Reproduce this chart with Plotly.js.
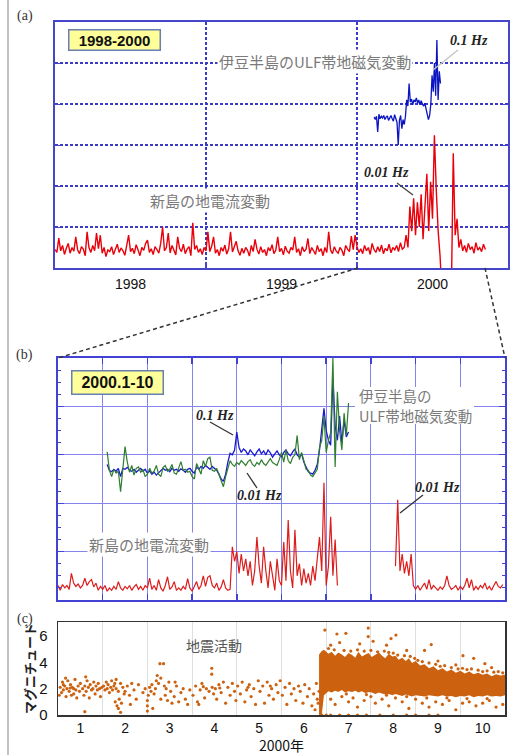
<!DOCTYPE html>
<html><head><meta charset="utf-8">
<script src="https://cdn.plot.ly/plotly-3.0.1.min.js"></script>
<style>html,body{margin:0;padding:0;background:#fff}#chart{width:513px;height:755px}</style>
</head><body><div id="chart"></div>
<script>
// ---------- (a) 1998-2000 ----------
const yearTicks = [1998.5, 1999.5, 2000.5];
const yearLabels = ['1998', '1999', '2000'];
const redAStart = 1998.0, redAStep = 0.0125;   // decimal years
const redA = [
0.45,0.38,0.73,0.42,0.55,0.33,0.48,0.6,0.36,0.5,
0.41,0.76,0.44,0.35,0.52,0.46,0.3,0.88,0.5,0.38,
0.55,0.42,0.85,0.47,0.8,0.36,0.5,0.28,0.44,0.4,
0.52,0.33,0.46,0.58,0.38,0.49,0.42,0.31,0.55,0.8,
0.4,0.48,0.35,0.57,0.44,0.3,0.5,0.43,0.6,0.68,
0.38,0.47,0.33,0.52,0.45,0.36,0.6,1.0,0.42,0.5,
0.85,0.37,0.55,0.44,0.32,0.76,0.48,0.4,0.58,0.35,
0.46,0.52,0.3,1.1,0.45,0.55,0.38,0.47,0.33,0.5,
0.42,0.88,0.4,0.53,0.76,0.36,0.45,0.3,0.5,0.41,
0.56,0.34,0.47,0.88,0.39,0.52,0.65,0.42,0.31,0.48,
0.36,0.5,0.43,0.29,0.55,0.4,0.7,0.46,0.34,0.52,
0.38,0.45,0.3,0.5,0.42,0.57,0.35,0.44,0.76,0.4,
0.48,0.32,0.53,0.41,0.36,0.5,0.44,0.76,0.38,0.47,
0.3,0.52,0.4,0.46,0.72,0.35,0.5,0.42,0.33,0.55,
0.4,0.47,0.3,0.5,0.38,0.88,0.44,0.35,0.52,0.41,
0.36,0.5,0.43,0.3,0.55,0.46,0.4,0.78,0.45,0.8,
0.52,0.38,0.47,0.35,0.55,0.42,0.5,0.33,0.6,0.45,
0.38,0.52,0.4,0.56,0.35,0.48,0.42,0.58,0.37,0.5,
0.44,0.55,0.4,0.62,0.46,0.5,0.8,0.5,1.5,0.9,
1.7,0.8,1.6,1.0,1.8,0.7,1.5,2.3,0.9,2.1,
1.2,3.24,1.9,0.9,0.3,-0.6,-0.6,-0.6,-0.6,-0.6,
-0.6,2.8,0.8,1.2,0.5,0.7,0.42,0.55,0.38,0.6,
0.45,0.52,0.36,0.62,0.44,0.5,0.4,0.58,0.45];
const blueAStart = 2000.113, blueAStep = 0.008;
const blueA = [
3.68,3.62,3.70,3.32,3.75,3.64,3.70,3.66,3.72,3.62,
3.68,3.71,3.60,3.66,3.72,3.64,3.58,3.74,3.66,3.55,
3.00,3.60,3.72,3.40,3.62,3.50,3.70,4.10,3.95,4.50,
4.05,4.12,3.98,4.10,4.05,4.15,4.02,4.10,3.98,4.08,
4.00,3.95,4.02,3.90,3.75,3.62,3.72,4.00,4.70,4.30,
5.00,4.20,5.56,4.10,4.80,4.50];

// ---------- (b) 2000.1-10 (months from 1 Jan) ----------
const redBStart = 0.0, monthStep = 0.05;
const redB = [
0.3,0.2,0.32,0.25,0.3,0.22,0.55,0.35,0.28,0.33,
0.25,0.3,0.45,0.3,0.38,0.42,0.27,0.35,0.2,0.28,
0.22,0.3,0.18,0.25,0.2,0.28,0.22,0.38,0.25,0.2,
0.28,0.23,0.3,0.2,0.27,0.32,0.22,0.28,0.2,0.3,
0.25,0.45,0.22,0.3,0.2,0.42,0.25,0.18,0.3,0.48,
0.22,0.27,0.38,0.2,0.25,0.2,0.28,0.22,0.44,0.25,
0.18,0.3,0.38,0.22,0.3,0.5,0.28,0.47,0.5,0.3,
0.25,0.35,0.2,0.27,0.42,0.25,0.2,0.22,1.1,0.8,
1.0,0.55,0.95,0.6,0.85,0.5,0.8,0.3,0.6,1.3,
0.7,0.35,1.1,0.6,0.25,0.8,0.5,0.2,0.85,0.4,
0.3,1.2,0.4,1.65,0.6,0.25,1.45,0.5,0.75,0.3,
0.65,0.35,0.55,0.3,0.7,0.4,0.85,1.3,0.6,2.42,
0.3,0.7,1.72,0.5,1.25,0.3,null,null,null,null,
null,null,null,null,null,null,null,null,null,null,
null,null,null,null,null,null,null,null,null,null,
null,0.7,2.07,0.6,0.95,0.55,0.8,0.5,0.95,0.3,
0.22,0.3,0.2,0.28,0.35,0.22,0.42,0.22,0.3,0.25,
0.2,0.27,0.22,0.3,0.5,0.3,0.22,0.25,0.3,0.2,
0.28,0.22,0.3,0.45,0.25,0.42,0.2,0.28,0.22,0.3,
0.25,0.35,0.22,0.28,0.2,0.3,0.38,0.28,0.25,0.32];
const magStart = 1.1;
const blueB = [
2.8,2.68,2.65,2.7,2.66,2.72,2.55,2.72,2.7,2.74,
2.68,2.66,2.7,2.64,2.68,2.72,2.66,2.7,2.62,2.67,
2.6,2.64,2.58,2.62,2.68,2.72,2.68,2.7,2.65,2.72,
2.68,2.7,2.66,2.71,2.68,2.64,2.7,2.72,2.66,2.62,
2.75,2.7,2.76,2.72,2.78,2.74,2.7,2.76,2.72,2.68,
2.6,2.5,2.45,2.6,2.85,3.03,3.0,3.1,3.47,3.15,
3.05,3.12,3.08,3.0,3.1,3.04,2.98,3.06,3.12,3.02,
3.08,3.0,3.1,3.04,2.95,3.02,3.08,3.0,2.96,3.05,
3.1,3.02,2.98,3.06,3.12,3.0,2.95,3.02,2.85,2.75,
2.65,2.62,2.6,2.68,2.8,3.1,3.6,3.96,3.5,3.3,
3.2,4.58,3.6,3.3,3.8,3.25,3.72,3.37,3.47];
const greenB = [
3.06,2.68,2.55,2.7,2.62,2.66,2.24,2.8,3.17,2.85,
2.64,2.78,2.58,2.72,2.75,2.64,2.7,2.55,2.6,2.72,
2.62,2.66,2.78,2.6,2.55,2.74,2.78,2.66,2.7,2.8,
2.62,2.6,2.72,2.86,2.68,2.7,2.64,2.66,2.55,2.5,
2.82,2.7,2.6,2.88,2.76,2.92,2.95,2.68,2.66,2.72,
2.6,2.45,2.34,2.55,2.7,2.88,2.8,2.76,2.84,2.8,
2.88,2.82,2.78,2.86,2.9,2.8,2.76,2.84,2.8,2.9,
2.82,2.78,2.86,2.92,2.84,2.8,2.78,2.9,3.05,2.85,
3.1,2.88,2.82,2.95,3.0,3.4,2.9,3.05,2.85,2.7,
2.68,2.58,2.55,2.62,2.7,3.15,3.3,3.8,3.05,3.3,
3.45,5.0,2.75,4.3,3.5,3.1,3.86,3.4,4.07];

// ---------- (c) seismicity ----------
const monthTicks = [0.5,1.5,2.5,3.5,4.5,5.5,6.5,7.5,8.5,9.5];
const monthLabels = ['1','2','3','4','5','6','7','8','9','10'];
const magTicks = [0, 2, 4, 6];
const bandMonth = [5.84,5.9,5.95,6.05,6.12,6.2,6.27,6.35,6.42,6.5,6.58,6.65,6.72,6.8,6.88,6.95,7.02,7.1,7.18,7.25,7.32,7.4,7.48,7.55,7.62,7.7,7.78,7.85,7.92,8.0,8.1,8.2,8.3,8.4,8.5,8.6,8.7,8.8,8.9,9.0,9.1,9.2,9.3,9.4,9.5,9.6,9.7,9.8,9.9,10.0];
const bandHigh = [4.6,4.85,4.95,4.65,4.8,4.5,4.75,4.6,4.4,4.7,4.55,4.35,4.8,4.45,4.6,4.7,4.4,4.55,4.75,4.5,4.3,4.65,4.45,4.5,4.2,4.35,4.1,4.3,3.95,4.1,3.75,3.85,3.55,3.7,3.4,3.55,3.3,3.45,3.2,3.35,3.15,3.3,3.1,3.2,3.05,3.15,2.95,3.1,3.0,3.05];
const bandLow = [0.0,0.0,1.5,1.8,1.7,1.85,1.75,1.9,1.7,1.8,1.75,1.85,1.7,1.8,1.65,1.75,1.7,1.6,1.7,1.65,1.55,1.6,1.5,1.6,1.55,1.45,1.55,1.5,1.4,1.5,1.45,1.4,1.5,1.45,1.4,1.5,1.4,1.45,1.35,1.45,1.4,1.5,1.35,1.45,1.4,1.5,1.4,1.45,1.4,1.5];
const quakes = [
[0.05,2.1],[0.08,1.7],[0.1,2.5],[0.12,1.9],[0.15,2.2],[0.18,1.4],[0.2,2.0],[0.22,2.6],[0.25,1.8],[0.28,2.3],[0.3,1.5],[0.32,2.1],[0.35,2.0],[0.38,2.7],[0.4,1.9],[0.42,1.3],[0.45,2.2],[0.48,1.8],[0.5,2.4],[0.12,2.3],[0.27,2.05],[0.35,1.6],[0.17,2.8],[0.03,1.5],
[0.55,2.0],[0.58,1.5],[0.6,2.2],[0.63,1.8],[0.65,2.6],[0.68,2.1],[0.7,1.3],[0.72,2.3],[0.75,1.9],[0.78,2.0],[0.8,2.5],[0.83,1.6],[0.85,2.2],[0.88,1.9],[0.9,2.4],[0.93,2.0],[0.95,1.4],[0.98,2.1],[0.62,2.9],[0.6,0.25],
[1.02,2.2],[1.05,1.9],[1.08,2.5],[1.1,2.0],[1.12,2.3],[1.15,1.7],[1.18,2.1],[1.2,2.6],[1.22,1.9],[1.25,2.2],[1.28,1.0],[1.3,2.0],[1.32,0.7],[1.35,1.8],[1.37,1.2],[1.4,2.4],[1.42,0.9],[1.45,2.1],[1.48,1.6],[1.5,1.8],[1.3,2.7],[1.4,0.2],[1.35,0.5],[1.27,2.4],
[1.55,2.2],[1.6,1.5],[1.65,2.4],[1.7,1.9],[1.75,1.2],[1.8,2.3],[1.9,1.7],[1.95,2.0],[1.62,0.8],
[2.0,0.3],[2.0,0.7],[2.0,1.1],[2.02,1.5],[2.05,2.1],[2.08,1.8],[2.1,2.3],[2.15,1.6],[2.18,2.0],[2.2,2.6],[2.22,3.0],[2.25,2.4],[2.28,3.9],[2.3,2.8],[2.36,3.9],[2.38,2.2],[2.4,1.5],[2.42,2.0],[2.45,1.1],[2.48,2.5],[2.3,1.2],[2.12,0.5],
[2.52,1.8],[2.55,0.9],[2.6,1.4],[2.65,2.2],[2.7,1.0],[2.75,1.7],[2.8,2.0],[2.85,1.2],[2.9,0.8],[2.95,1.9],[2.62,2.5],
[3.02,1.5],[3.08,2.2],[3.12,1.0],[3.18,1.9],[3.22,2.4],[3.28,1.3],[3.32,2.0],[3.38,1.8],[3.44,3.55],[3.44,3.1],[3.45,2.1],[3.48,1.6],[3.15,0.8],[3.25,2.15],
[3.52,2.0],[3.55,1.2],[3.6,2.3],[3.65,1.7],[3.7,2.5],[3.75,0.9],[3.8,2.1],[3.85,1.5],[3.9,2.4],[3.95,1.8],[3.98,1.1],[3.62,2.05],
[4.02,2.2],[4.08,1.6],[4.12,2.5],[4.18,1.0],[4.22,1.9],[4.28,2.3],[4.32,1.4],[4.38,2.0],[4.42,0.8],[4.48,2.6],[4.25,2.1],
[4.52,1.8],[4.58,2.2],[4.62,0.9],[4.68,2.5],[4.72,1.5],[4.78,2.0],[4.82,1.2],[4.88,2.3],[4.92,1.7],[4.97,2.6],[4.75,2.2],
[5.02,1.5],[5.08,2.1],[5.12,0.8],[5.18,2.4],[5.22,1.6],[5.28,2.0],[5.32,1.1],[5.38,2.2],[5.42,1.8],[5.48,0.9],[5.52,2.3],[5.58,1.4],[5.62,2.0],[5.68,0.7],[5.72,1.6],[5.75,0.4],[5.78,2.4],[5.8,1.2],[5.82,0.9],[5.84,1.8],
[5.97,6.45],[6.24,6.15],[6.44,6.2],[6.94,6.6],[6.94,5.95],[7.56,6.07],[8.35,5.35],[9.06,4.5],[9.55,3.9],
[6.1,5.3],[6.3,5.5],[6.75,5.4],[7.05,5.6],[7.35,5.3],[7.45,5.8],[7.8,4.9],[8.2,4.9],[8.5,4.1],[8.9,3.8],[9.3,4.3],[9.7,3.6],
[6.05,5.05],[6.18,4.95],[6.4,4.9],[6.55,4.85],[6.7,4.95],[6.85,4.85],[7.0,4.9],[7.15,4.8],[7.3,4.85],[7.4,4.75],[7.5,4.7],[7.6,4.55],[7.75,4.5],[7.88,4.45],[7.98,4.3],[8.05,4.15],[8.15,4.05],[8.3,3.95],[8.45,3.85],[8.55,3.7],[8.65,3.75],[8.8,3.6],[8.95,3.5],[9.05,3.55],[9.15,3.45],[9.25,3.5],[9.4,3.4],[9.5,3.3],[9.6,3.35],[9.75,3.25],[9.85,3.3],[9.95,3.2],
[6.1,1.2],[6.2,0.8],[6.35,1.4],[6.5,1.0],[6.6,1.3],[6.7,0.6],[6.85,1.1],[7.0,1.4],[7.1,0.9],[7.25,1.2],[7.4,0.7],[7.55,1.3],[7.7,1.0],[7.85,0.5],[8.0,1.2],[8.15,0.9],[8.3,0.6],[8.45,1.0],[8.6,0.8],[8.75,1.1],[8.9,0.4],[9.05,0.9],[9.2,1.0],[9.35,0.7],[9.5,0.9],[9.65,1.1],[9.8,0.6],[9.95,0.8],[6.45,1.6],[6.9,1.55],[7.35,1.5],[7.8,1.4],[8.25,1.3],[8.7,1.3],[9.15,1.25],[9.6,1.25],
[5.9,0],[6.0,0],[6.1,0],[6.3,0],[6.5,0],[6.7,0],[6.9,0],[7.2,0],[7.5,0],[7.8,0],[8.0,0],[8.3,0],[8.5,0]];

// ---------- helpers ----------
const W = 513, H = 755;
const seq = (start, step, n) => Array.from({length: n}, (_, i) => +(start + step * i).toFixed(4));
const PX = x => x / W, PY = y => 1 - y / H;
const dom = (a, b) => [a / W, b / W];
const domY = (top, bottom) => [1 - bottom / H, 1 - top / H];

const orange = '#cc6210';
const traces = [
  {x: seq(redAStart, redAStep, redA.length), y: redA, xaxis: 'x', yaxis: 'y', mode: 'lines', line: {color: '#e8000a', width: 1.4}},
  {x: seq(blueAStart, blueAStep, blueA.length), y: blueA, xaxis: 'x', yaxis: 'y', mode: 'lines', line: {color: '#0a14c0', width: 1.3}},
  {x: seq(redBStart, monthStep, redB.length), y: redB, xaxis: 'x2', yaxis: 'y2', mode: 'lines', connectgaps: false, line: {color: '#dd1c1c', width: 1.2}},
  {x: seq(magStart, monthStep, blueB.length), y: blueB, xaxis: 'x2', yaxis: 'y2', mode: 'lines', line: {color: '#1a1ad0', width: 1.3}},
  {x: seq(magStart, monthStep, greenB.length), y: greenB, xaxis: 'x2', yaxis: 'y2', mode: 'lines', line: {color: '#2f7d2f', width: 1.2}},
  {x: bandMonth, y: bandLow, xaxis: 'x3', yaxis: 'y3', mode: 'lines', line: {width: 0, color: orange}},
  {x: bandMonth, y: bandHigh, xaxis: 'x3', yaxis: 'y3', mode: 'lines', fill: 'tonexty', fillcolor: orange, line: {width: 0, color: orange}},
  {x: quakes.map(q => q[0]), y: quakes.map(q => q[1]), xaxis: 'x3', yaxis: 'y3', mode: 'markers', cliponaxis: false,
   marker: {color: orange, size: 3.2, line: {width: 0}}}
];

const blueLine = '#4646cc';
const annFont = (size, color, family) => ({family: family || 'Noto Sans CJK JP', size, color});
const ann = (text, x, y, opt) => Object.assign({text, xref: 'paper', yref: 'paper', x: PX(x), y: PY(y),
  showarrow: false, xanchor: 'center', yanchor: 'middle'}, opt || {});
const hz = (text, x, y) => ann('<b><i>' + text + '</i></b>', x, y, {font: annFont(14, '#222', 'Liberation Serif')});
const seg = (x0, y0, x1, y1, color, width, dash) => ({type: 'line', xref: 'paper', yref: 'paper',
  x0: PX(x0), y0: PY(y0), x1: PX(x1), y1: PY(y1), line: {color, width, dash: dash || 'solid'}});
const blank = (x0, y0, x1, y1) => ({type: 'rect', xref: 'paper', yref: 'paper', x0: PX(x0), y0: PY(y0), x1: PX(x1), y1: PY(y1),
  fillcolor: '#fff', line: {width: 0}});

const layout = {
  width: W, height: H, margin: {l: 0, r: 0, t: 0, b: 0},
  paper_bgcolor: '#fff', plot_bgcolor: '#fff', showlegend: false,
  font: {family: 'Liberation Sans', color: '#111'},
  xaxis: {domain: dom(55, 508), anchor: 'y', range: [1998, 2001], tickmode: 'array', tickvals: yearTicks, ticktext: yearLabels,
    showgrid: false, zeroline: false, showline: true, mirror: true, linecolor: blueLine, linewidth: 2, ticks: '',
    tickfont: {size: 14, color: '#111'}, ticklabelstandoff: 2, automargin: false,
    minor: {tickmode: 'array', tickvals: [1999, 2000], showgrid: true, gridcolor: '#3a3ac8', gridwidth: 1.5, griddash: '3px,2px',
      ticks: 'inside', ticklen: 6, tickcolor: blueLine, tickwidth: 1.5}},
  yaxis: {domain: domY(22, 268), anchor: 'x', range: [0, 6], dtick: 1, showticklabels: false, zeroline: false,
    showgrid: true, gridcolor: '#3a3ac8', gridwidth: 1.5, griddash: '3px,2px',
    showline: true, mirror: 'ticks', linecolor: blueLine, linewidth: 2, ticks: 'inside', ticklen: 5, tickcolor: blueLine, automargin: false},
  xaxis2: {domain: dom(58, 505), anchor: 'y2', range: [0, 10], dtick: 1, tick0: 0, showticklabels: false, zeroline: false,
    showgrid: true, gridcolor: '#8484ea', gridwidth: 1.2,
    showline: true, mirror: 'ticks', linecolor: '#4242d4', linewidth: 2, ticks: 'inside', ticklen: 6, tickcolor: '#4242d4', tickwidth: 1.5, automargin: false},
  yaxis2: {domain: domY(358, 600), anchor: 'x2', range: [0, 5], dtick: 1, showticklabels: false, zeroline: false,
    showgrid: true, gridcolor: '#8484ea', gridwidth: 1.2,
    showline: true, mirror: 'ticks', linecolor: '#4242d4', linewidth: 2, ticks: 'inside', ticklen: 6, tickcolor: '#4242d4', automargin: false,
    minor: {dtick: 0.25, ticks: 'inside', ticklen: 3, tickcolor: '#4242d4', showgrid: false}},
  xaxis3: {domain: dom(58, 505), anchor: 'y3', range: [0, 10], tickmode: 'array', tickvals: monthTicks, ticktext: monthLabels,
    showgrid: false, zeroline: false, showline: true, mirror: true, linecolor: '#333', linewidth: 1.5, ticks: '',
    tickfont: {size: 14, color: '#111'}, ticklabelstandoff: 0, automargin: false,
    minor: {tick0: 0, dtick: 1, showgrid: true, gridcolor: '#dedede', gridwidth: 1, ticks: ''},
    title: {text: '2000年', font: {family: 'Noto Sans CJK JP', size: 14, color: '#111'}, standoff: 1}},
  yaxis3: {domain: domY(622, 715), anchor: 'x3', range: [0, 7.06], tickmode: 'array', tickvals: magTicks,
    showgrid: false, zeroline: false, showline: true, mirror: true, linecolor: '#333', linewidth: 1.5, ticks: '',
    tickfont: {size: 15, color: '#111'}, ticklabelstandoff: 6, automargin: false,
    title: {text: 'マグニチュード', font: {family: 'Noto Sans CJK JP', size: 13, color: '#222', weight: 'bold'}, standoff: 0}},
  annotations: [
    ann('(a)', 25, 16, {font: annFont(14, '#333', 'Liberation Serif')}),
    ann('(b)', 24, 355, {font: annFont(14, '#333', 'Liberation Serif')}),
    ann('(c)', 25, 619, {font: annFont(14, '#333', 'Liberation Serif')}),
    ann('<b>1998-2000</b>', 114.5, 40.5, {bgcolor: '#ffff99', bordercolor: '#6a7fb0', borderwidth: 1.5, borderpad: 1,
      width: 88, height: 17, font: annFont(15, '#111', 'Liberation Sans')}),
    ann('<b>2000.1-10</b>', 117.5, 382, {bgcolor: '#ffff99', bordercolor: '#6a7fb0', borderwidth: 1.5, borderpad: 1,
      width: 88, height: 20, font: annFont(16, '#111', 'Liberation Sans')}),
    ann('伊豆半島のULF帯地磁気変動', 315, 61, {font: annFont(15, '#7a7a7a'), bgcolor: '#fff'}),
    ann('新島の地電流変動', 210, 200, {font: annFont(15, '#7a7a7a'), bgcolor: '#fff'}),
    hz('0.1 Hz', 469, 41),
    hz('0.01 Hz', 386, 173),
    ann('伊豆半島の', 357, 396, {xanchor: 'left', font: annFont(14.5, '#7a7a7a')}),
    ann('ULF帯地磁気変動', 357, 415, {xanchor: 'left', font: annFont(14.5, '#7a7a7a')}),
    ann('新島の地電流変動', 149, 544, {font: annFont(15, '#7a7a7a'), bgcolor: '#fff'}),
    hz('0.1 Hz', 215, 415),
    hz('0.01 Hz', 259, 495),
    hz('0.01 Hz', 437, 487),
    ann('地震活動', 214, 645, {font: annFont(14, '#555')})
  ],
  shapes: [
    blank(355, 387, 474, 424),
    seg(8, 0, 8, 755, '#9a9a9a', 1.2),
    seg(358, 268, 58, 358, '#333', 1.5, '4px,3px'),
    seg(485, 268, 505, 358, '#333', 1.5, '4px,3px'),
    seg(433, 70, 458, 50, '#c4c4c4', 1.5),
    seg(397, 183, 413, 195, '#444', 1.3),
    seg(210, 422, 233, 435, '#333', 1.3),
    seg(247, 473, 257, 488, '#333', 1.3),
    seg(423, 495, 400, 513, '#333', 1.3)
  ]
};

Plotly.newPlot('chart', traces, layout, {displayModeBar: false, staticPlot: true});
</script></body></html>
